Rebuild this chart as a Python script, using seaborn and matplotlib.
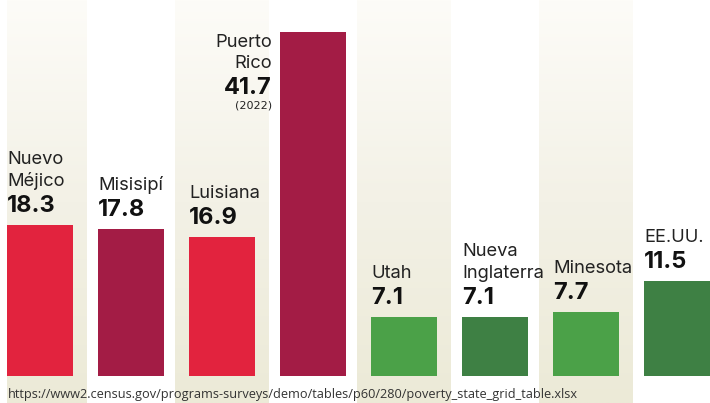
import numpy as np
import pandas as pd
import matplotlib
matplotlib.use("Agg")
import matplotlib.pyplot as plt
from matplotlib.colors import LinearSegmentedColormap
import seaborn as sns

# data
regions = ["Nuevo\nMéjico", "Misisipí", "Luisiana", "Puerto\nRico",
           "Utah", "Nueva\nInglaterra", "Minesota", "EE.UU."]
poverty = [18.3, 17.8, 16.9, 41.7, 7.1, 7.1, 7.7, 11.5]
value_labels = ["18.3", "17.8", "16.9", "41.7", "7.1", "7.1", "7.7", "11.5"]
bar_colors = ["#e2233e", "#a31c45", "#e2233e", "#a31c45",
              "#4ba148", "#3e8044", "#4ba148", "#3e8044"]
source = "https://www2.census.gov/programs-surveys/demo/tables/p60/280/poverty_state_grid_table.xlsx"

df = pd.DataFrame({"region": regions, "poverty": poverty})

sns.set_theme(style="white")
plt.rcParams["font.family"] = ["Inter", "DejaVu Sans"]

W, H = 710, 403
fig = plt.figure(figsize=(W / 100, H / 100), dpi=100)
ax = fig.add_axes([7 / W, 0, (W - 7) / W, 1])

px_per_unit = 344 / 41.7
step = 91.0
x0 = (7 - 40) / step
x1 = (W - 40) / step
y0 = -(H - 376) / px_per_unit
y1 = 376 / px_per_unit

# gradient bands behind every other column
cmap = LinearSegmentedColormap.from_list("band", ["#fdfcf8", "#f3f1e6", "#ecead7"])
grad = np.linspace(0, 1, 256).reshape(-1, 1)
for i in range(0, len(regions), 2):
    ax.imshow(grad, cmap=cmap, aspect="auto", origin="upper",
              extent=(i - 0.516, i + 0.516, y0, y1), zorder=0)

sns.barplot(data=df, x="region", y="poverty", hue="region", palette=bar_colors,
            legend=False, width=66 / step, saturation=1, linewidth=0,
            edgecolor="none", ax=ax, zorder=2)

ax.set_xlim(x0, x1)
ax.set_ylim(y0, y1)
ax.axis("off")

pt = 0.72  # px -> pt
half = 33 / step
name_fs = 13.2
for i, (name, v, lab) in enumerate(zip(regions, poverty, value_labels)):
    left = i - half
    if name.startswith("Puerto"):
        xr = left - 8 / step
        lines = name.split("\n")
        for k, line in enumerate(lines):
            ax.annotate(line, (xr, v), xytext=(0, -(15 + 21 * k) * pt),
                        textcoords="offset points", ha="right", va="baseline",
                        fontsize=name_fs, color="#222222")
        ax.annotate(lab, (xr, v), xytext=(0, -62 * pt), textcoords="offset points",
                    ha="right", va="baseline", fontsize=17, fontweight="bold",
                    color="#111111")
        ax.annotate("(2022)", (xr, v), xytext=(0, -77 * pt), textcoords="offset points",
                    ha="right", va="baseline", fontsize=8.0, color="#222222",
                    family="DejaVu Sans")
        continue
    ax.annotate(lab, (left, v), xytext=(0, 13 * pt), textcoords="offset points",
                ha="left", va="baseline", fontsize=17, fontweight="bold", color="#111111")
    lines = name.split("\n")
    n = len(lines)
    for k, line in enumerate(lines):
        off = 13 + 26 + 22 * (n - 1 - k)
        ax.annotate(line, (left, v), xytext=(0, off * pt), textcoords="offset points",
                    ha="left", va="baseline", fontsize=name_fs, color="#222222")

fig.text(8 / W, 1 - 398 / H, source, ha="left", va="baseline",
         fontsize=9.2, color="#333333", family=["Open Sans", "DejaVu Sans"])

fig.savefig("out.png", dpi=100)
